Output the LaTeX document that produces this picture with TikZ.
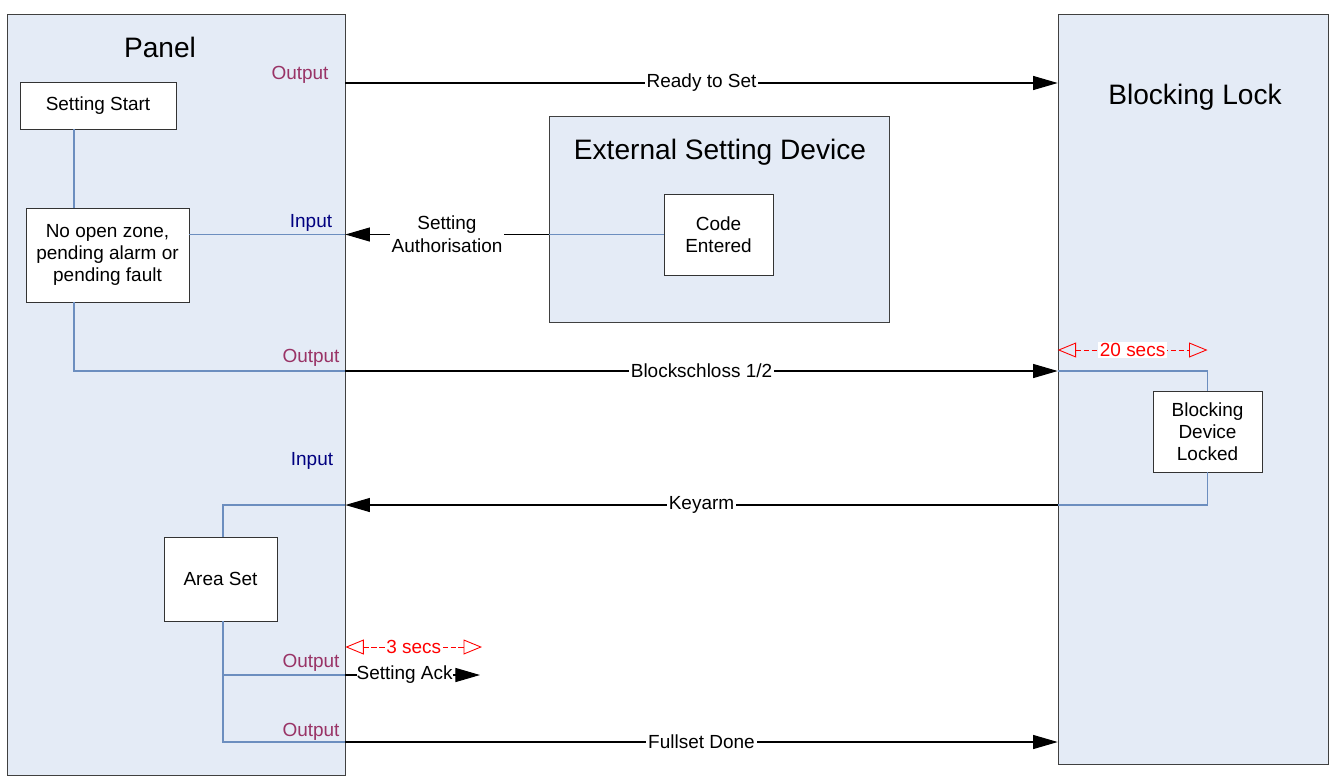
\documentclass[tikz,border=0pt]{standalone}
\usepackage{fontspec}
\setmainfont{Liberation Sans}
\usetikzlibrary{positioning,arrows.meta,fit}

\definecolor{panelfill}{HTML}{E4EBF6}
\definecolor{wirecol}{HTML}{6C8EBF}
\definecolor{outcol}{HTML}{993366}
\definecolor{incol}{HTML}{000080}

\begin{document}
\begin{tikzpicture}[x=0.02cm, y=-0.02cm,
        container/.style={draw=black!75, fill=panelfill, inner sep=0pt},
        box/.style={draw=black!80, fill=white, align=center, inner sep=0pt, font=\fontsize{10.8}{12.6}\selectfont},
        title/.style={font=\fontsize{16}{19}\selectfont},
        outlbl/.style={text=outcol, font=\fontsize{10.8}{13}\selectfont},
        inlbl/.style={text=incol, font=\fontsize{10.8}{13}\selectfont},
        wire/.style={draw=wirecol, line width=0.6pt},
        sig/.style={-{Triangle[length=14pt,width=8pt]}, line width=0.6pt},
        siglbl/.style={fill=white, inner sep=1pt, align=center, font=\fontsize{10.8}{13}\selectfont},
        timer/.style={red, dash pattern=on 3pt off 1.5pt, line width=0.5pt, {Triangle[open,length=10.5pt,width=8.5pt]}-{Triangle[open,length=10.5pt,width=8.5pt]}},
        timerlbl/.style={fill=white, text=red, inner sep=1pt, font=\fontsize{10.8}{13}\selectfont}]
        \useasboundingbox (0,0) rectangle (1334,778);
        % containers
        \node[container, fit={(7,14) (345,775)}] (panel) {};
        \node[container, fit={(1058,14) (1328,764)}] (lock) {};
        \node[container, fit={(549,116) (889,322)}] (esd) {};
        \node[title] at (160,47) (paneltitle) {Panel};
        \node[title] at (1195,97) (locktitle) {Blocking Lock};
        \node[title] at (720,152) (esdtitle) {External Setting Device};
        % states
        \node[box, minimum width=3.12cm, minimum height=0.94cm] at (98,105.5) (start) {Setting Start};
        \node[box, minimum width=3.26cm, minimum height=1.88cm] at (107.5,255) (noopen) {No open zone,\\pending alarm or\\pending fault};
        \node[box, minimum width=2.18cm, minimum height=1.62cm] at (718.5,234.5) (code) {Code\\Entered};
        \node[box, minimum width=2.18cm, minimum height=1.62cm] at (1207.5,431.5) (locked) {Blocking\\Device\\Locked};
        \node[box, minimum width=2.26cm, minimum height=1.68cm] at (220.5,579) (areaset) {Area Set};
        % port labels
        \node[outlbl] at (300,75) (out1) {Output};
        \node[inlbl] at (311,223) (in1) {Input};
        \node[outlbl] at (311,358) (out2) {Output};
        \node[inlbl] at (312,461) (in2) {Input};
        \node[outlbl] at (311,663) (out3) {Output};
        \node[outlbl] at (311,732) (out4) {Output};
        % junction points
        \coordinate (blockin) at (lock.west |- 0,371);
        \coordinate (keyout) at (lock.west |- 0,505);
        \coordinate (keyin) at (panel.east |- 0,505);
        \coordinate (ackout) at (panel.east |- 0,675);
        \coordinate (fullout) at (panel.east |- 0,742);
        \coordinate (ackend) at (480,675);
        % wires inside the blocks
        \draw[wire] (start.south -| 74,0) -- (noopen.north -| 74,0);
        \draw[wire] (noopen.south -| 74,0) |- (panel.east |- 0,371);
        \draw[wire] (noopen.east |- code.west) -- (panel.east |- code.west);
        \draw[wire] (code.west) -- (esd.west |- code.west);
        \draw[wire] (blockin) -| (locked.north);
        \draw[wire] (locked.south) |- (keyout);
        \draw[wire] (keyin) -| (areaset.north -| 223,0);
        \draw[wire] (areaset.south -| 223,0) |- (fullout);
        \draw[wire] (223,675) -- (ackout);
        % signals
        \draw[sig] (panel.east |- 0,83) -- node[siglbl] {Ready to Set} (lock.west |- 0,83);
        \draw[sig] (esd.west |- code.west) -- node[siglbl] {Setting\\Authorisation} (panel.east |- code.west);
        \draw[sig] (panel.east |- 0,371) -- node[siglbl] {Blockschloss 1/2} (blockin);
        \draw[sig] (keyout) -- node[siglbl] {Keyarm} (keyin);
        \draw[sig] (ackout) -- node[siglbl, pos=0.44, inner sep=0pt] {Setting Ack} (ackend);
        \draw[sig] (fullout) -- node[siglbl] {Fullset Done} (lock.west |- fullout);
        % timers
        \draw[timer] (lock.west |- 0,350) -- node[timerlbl] {20 secs} (locked.north |- 0,350);
        \draw[timer] (panel.east |- 0,647) -- node[timerlbl] {3 secs} (482,647);
    \end{tikzpicture}
\end{document}
